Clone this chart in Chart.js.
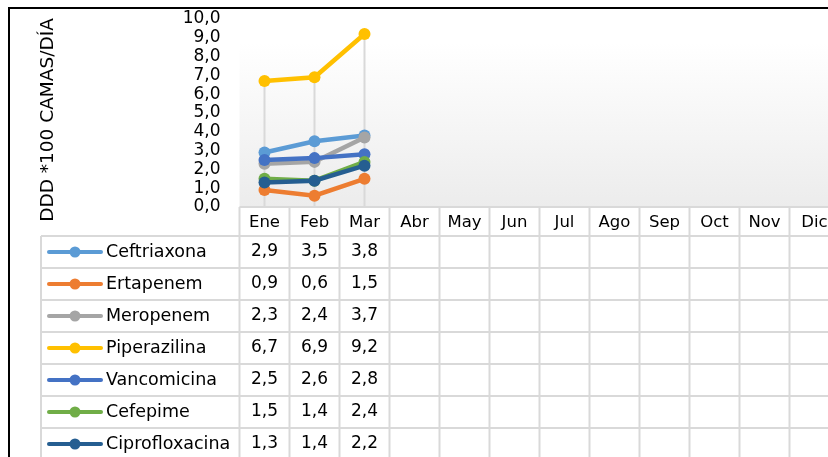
<!DOCTYPE html>
<html>
<head>
<meta charset="utf-8">
<title>DDD por 100 camas/día</title>
<script src="https://cdn.jsdelivr.net/npm/chart.js"></script>
<style>
  html, body { margin: 0; padding: 0; background: #fff; overflow: hidden; width: 828px; height: 457px; }
  canvas { position: absolute; left: 0; top: 0; }
</style>
</head>
<body>
<canvas id="chart" width="860" height="480"></canvas>
<script>
const months = ['Ene', 'Feb', 'Mar', 'Abr', 'May', 'Jun', 'Jul', 'Ago', 'Sep', 'Oct', 'Nov', 'Dic'];
const yTicks = [0, 1, 2, 3, 4, 5, 6, 7, 8, 9, 10];
const yTitle = 'DDD *100 CAMAS/DÍA';

const ceftriaxona    = [2.9, 3.5, 3.8, null, null, null, null, null, null, null, null, null];
const ertapenem      = [0.9, 0.6, 1.5, null, null, null, null, null, null, null, null, null];
const meropenem      = [2.3, 2.4, 3.7, null, null, null, null, null, null, null, null, null];
const piperazilina   = [6.7, 6.9, 9.2, null, null, null, null, null, null, null, null, null];
const vancomicina    = [2.5, 2.6, 2.8, null, null, null, null, null, null, null, null, null];
const cefepime       = [1.5, 1.4, 2.4, null, null, null, null, null, null, null, null, null];
const ciprofloxacina = [1.3, 1.4, 2.2, null, null, null, null, null, null, null, null, null];

const series = [
  { name: 'Ceftriaxona', values: ceftriaxona, color: '#5B9BD5' },
  { name: 'Ertapenem', values: ertapenem, color: '#ED7D31' },
  { name: 'Meropenem', values: meropenem, color: '#A5A5A5' },
  { name: 'Piperazilina', values: piperazilina, color: '#FFC000' },
  { name: 'Vancomicina', values: vancomicina, color: '#4472C4' },
  { name: 'Cefepime', values: cefepime, color: '#70AD47' },
  { name: 'Ciprofloxacina', values: ciprofloxacina, color: '#255E91' },
];

const FONT = '"DejaVu Sans", sans-serif';
const GRID = '#d9d9d9';
const fmt = v => v.toFixed(1).replace('.', ',');

// background, drop lines, data table, axis title and frame
const tablePlugin = {
  id: 'tablePlugin',
  beforeDraw(chart) {
    const { ctx, chartArea: a } = chart;
    ctx.save();
    const g = ctx.createLinearGradient(0, 43, 0, a.bottom);
    g.addColorStop(0, '#ffffff');
    g.addColorStop(1, '#ececec');
    ctx.fillStyle = g;
    ctx.fillRect(a.left, 43, a.right - a.left, a.bottom - 43);
    ctx.restore();
  },
  beforeDatasetsDraw(chart) {
    const { ctx, chartArea: a, scales: { x, y } } = chart;
    ctx.save();
    ctx.strokeStyle = GRID;
    ctx.lineWidth = 2;
    months.forEach((m, i) => {
      const vals = series.map(s => s.values[i]).filter(v => v !== null);
      if (!vals.length) return;
      const px = x.getPixelForValue(i);
      ctx.beginPath();
      ctx.moveTo(px, y.getPixelForValue(Math.max(...vals)));
      ctx.lineTo(px, a.bottom);
      ctx.stroke();
    });
    ctx.restore();
  },
  afterDraw(chart) {
    const { ctx, chartArea: a, scales: { x } } = chart;
    const half = (x.getPixelForValue(1) - x.getPixelForValue(0)) / 2;
    const headTop = a.bottom, headBot = 236, rowH = 32, legLeft = 41;
    const nRows = series.length;
    const bottom = headBot + rowH * (nRows + 1);
    ctx.save();
    ctx.strokeStyle = GRID;
    ctx.lineWidth = 2;
    ctx.beginPath();
    ctx.moveTo(a.left, headTop); ctx.lineTo(a.right + 10, headTop);
    ctx.stroke();
    for (let k = 0; k <= nRows + 1; k++) {
      const yy = headBot + rowH * k;
      ctx.beginPath();
      ctx.moveTo(legLeft, yy); ctx.lineTo(a.right + 10, yy);
      ctx.stroke();
    }
    ctx.beginPath();
    ctx.moveTo(legLeft, headBot); ctx.lineTo(legLeft, bottom);
    ctx.stroke();
    for (let i = 0; i <= months.length; i++) {
      const xx = x.getPixelForValue(0) - half + i * half * 2;
      ctx.beginPath();
      ctx.moveTo(xx, headTop); ctx.lineTo(xx, bottom);
      ctx.stroke();
    }
    // header text
    ctx.fillStyle = '#000';
    ctx.font = '16.5px ' + FONT;
    ctx.textAlign = 'center';
    ctx.textBaseline = 'middle';
    months.forEach((m, i) => ctx.fillText(m, x.getPixelForValue(i), (headTop + headBot) / 2 + 1));
    // rows
    series.forEach((s, r) => {
      const cy = headBot + rowH * r + rowH / 2;
      ctx.strokeStyle = s.color;
      ctx.lineWidth = 4;
      ctx.lineCap = 'round';
      ctx.beginPath();
      ctx.moveTo(49, cy); ctx.lineTo(101, cy);
      ctx.stroke();
      ctx.fillStyle = s.color;
      ctx.beginPath();
      ctx.arc(75, cy, 5.5, 0, Math.PI * 2);
      ctx.fill();
      ctx.fillStyle = '#000';
      ctx.textAlign = 'left';
      ctx.font = '17.5px ' + FONT;
      ctx.fillText(s.name, 106, cy);
      ctx.textAlign = 'center';
      ctx.font = '17px ' + FONT;
      s.values.forEach((v, i) => {
        if (v !== null) ctx.fillText(fmt(v), x.getPixelForValue(i), cy);
      });
    });
    // y axis title
    ctx.save();
    ctx.translate(48, 120);
    ctx.rotate(-Math.PI / 2);
    ctx.font = '18.5px ' + FONT;
    ctx.textAlign = 'center';
    ctx.textBaseline = 'middle';
    ctx.fillText(yTitle, 0, 0);
    ctx.restore();
    // outer frame
    ctx.strokeStyle = '#000';
    ctx.lineWidth = 2;
    ctx.lineCap = 'butt';
    ctx.beginPath();
    ctx.moveTo(9, 480); ctx.lineTo(9, 8); ctx.lineTo(860, 8);
    ctx.stroke();
    ctx.restore();
  }
};

new Chart(document.getElementById('chart'), {
  type: 'line',
  data: {
    labels: months,
    datasets: series.map((s, i) => ({
      label: s.name,
      data: s.values,
      borderColor: s.color,
      backgroundColor: s.color,
      pointBackgroundColor: s.color,
      pointBorderColor: s.color,
      borderWidth: 4.5,
      pointRadius: 6,
      pointBorderWidth: 0,
      tension: 0,
      order: series.length - i,
    }))
  },
  options: {
    responsive: false,
    animation: false,
    layout: { padding: { left: 30, right: 20.5, top: 19, bottom: 273 } },
    plugins: { legend: { display: false }, tooltip: { enabled: false } },
    scales: {
      x: { display: false, offset: true },
      y: {
        min: 0,
        max: 10,
        afterFit(scale) {
          scale.width = 209.5;
          scale.paddingTop = 0;
          scale.paddingBottom = 0;
        },
        afterBuildTicks(scale) { scale.ticks = yTicks.map(v => ({ value: v })); },
        grid: { display: false, drawTicks: false },
        border: { display: false },
        ticks: {
          autoSkip: false,
          padding: 19,
          color: '#000',
          font: { family: FONT, size: 17 },
          callback: v => fmt(v),
        }
      }
    }
  },
  plugins: [tablePlugin]
});
</script>
</body>
</html>
